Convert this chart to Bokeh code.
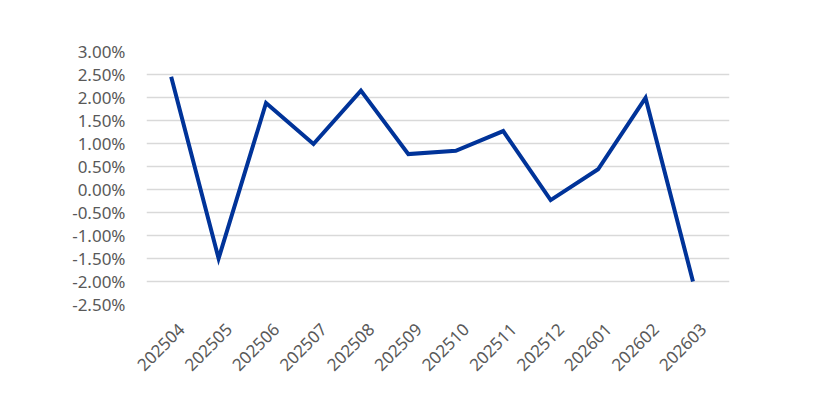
import math
from bokeh.plotting import figure
from bokeh.models import FixedTicker, NumeralTickFormatter, Range1d, LinearAxis
from bokeh.embed import file_html
from bokeh.resources import INLINE

months = ["202504", "202505", "202506", "202507", "202508", "202509",
          "202510", "202511", "202512", "202601", "202602", "202603"]
returns = [0.0245, -0.0150, 0.0188, 0.0099, 0.0215, 0.0077,
           0.0084, 0.0127, -0.0023, 0.0044, 0.0199, -0.0200]
y_ticks = [-0.025, -0.02, -0.015, -0.01, -0.005, 0.0,
           0.005, 0.01, 0.015, 0.02, 0.025, 0.03]

idx = list(range(len(months)))
x_lo, x_hi = -0.52, 11.77
# Excel puts the end of each slanted label a little right of the point
label_shift = 0.22

p = figure(width=814, height=394, output_backend="svg", toolbar_location=None,
           x_range=Range1d(x_lo, x_hi), y_range=Range1d(-0.025, 0.03),
           min_border_left=146, min_border_right=85,
           min_border_top=51, min_border_bottom=90)
p.outline_line_color = None
p.background_fill_color = "white"
p.extra_x_ranges = {"labels": Range1d(x_lo - label_shift, x_hi - label_shift)}

p.line(idx, returns, line_color="#003399", line_width=4, line_join="miter")

label_font = "Noto Sans"
gray = "#595959"

p.yaxis.ticker = FixedTicker(ticks=y_ticks)
p.yaxis.formatter = NumeralTickFormatter(format="0.00%")
p.yaxis.axis_line_color = None
p.yaxis.major_tick_line_color = None
p.yaxis.minor_tick_line_color = None
p.yaxis.major_label_standoff = 15
p.yaxis.major_label_text_font = label_font
p.yaxis.major_label_text_font_size = "17px"
p.yaxis.major_label_text_color = gray

p.xaxis.visible = False

xaxis = LinearAxis(x_range_name="labels")
xaxis.ticker = FixedTicker(ticks=idx)
xaxis.major_label_overrides = {i: m for i, m in zip(idx, months)}
xaxis.major_label_orientation = math.pi / 4
xaxis.axis_line_color = None
xaxis.major_tick_line_color = None
xaxis.minor_tick_line_color = None
xaxis.major_label_standoff = 16
xaxis.major_label_text_font = label_font
xaxis.major_label_text_font_size = "17px"
xaxis.major_label_text_color = gray
p.add_layout(xaxis, "below")

p.xgrid.grid_line_color = None
p.ygrid.grid_line_color = "#d9d9d9"
p.ygrid.grid_line_width = 1.5

open("out.html", "w").write(file_html(p, INLINE))
